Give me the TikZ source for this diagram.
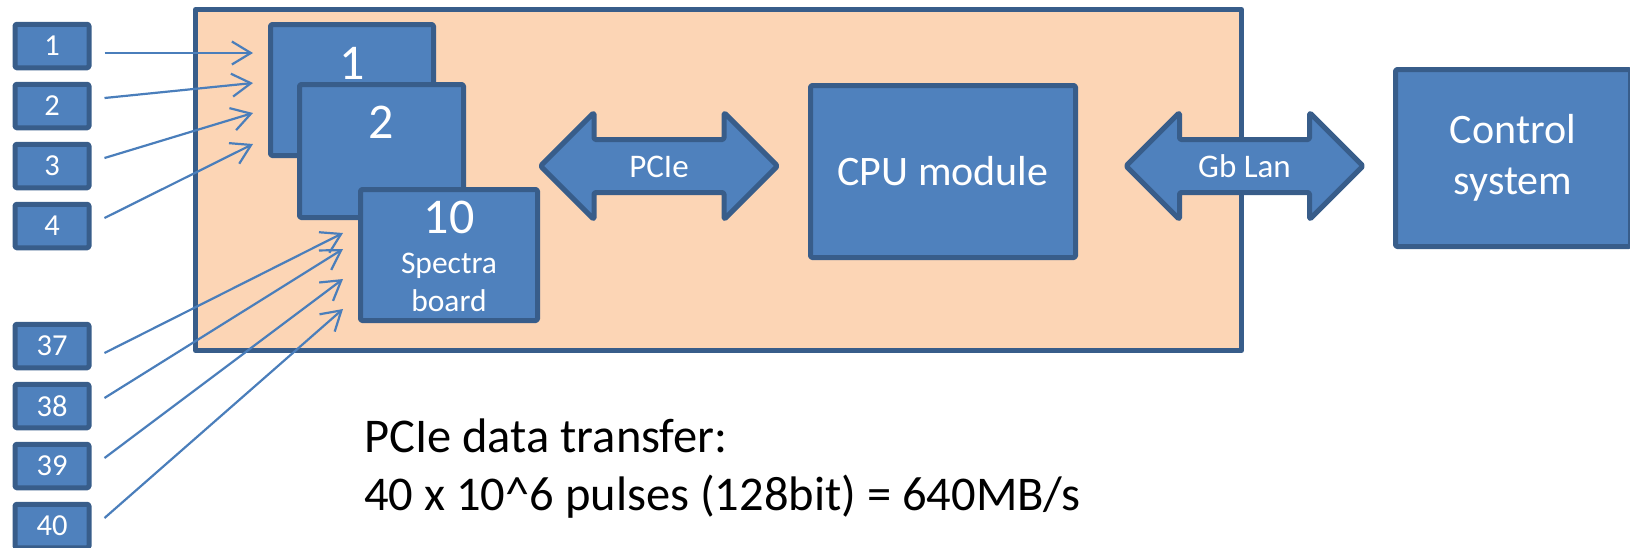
\documentclass[tikz,border=0pt]{standalone}
\usepackage{fontspec}
\setmainfont{Carlito}
\usetikzlibrary{arrows.meta,shapes.arrows,calc}
\definecolor{boxblue}{HTML}{4F81BD}
\definecolor{edgeblue}{HTML}{385D8A}
\definecolor{wireblue}{HTML}{4A7EBB}
\definecolor{peach}{HTML}{FCD5B5}
\tikzset{
  blk/.style={draw=edgeblue, fill=boxblue, line width=5pt, rounded corners=1.5pt, text=white, inner sep=0pt},
  chan/.style={blk, minimum width=74, minimum height=43.5, font=\fontsize{30.5}{36}\selectfont},
  num/.style={text=white, inner sep=0pt, font=\fontsize{50}{55}\selectfont},
  wire/.style={wireblue, line width=2.2pt, -{Straight Barb[length=19pt,width=23pt,line width=2.2pt]}},
  fat/.style={blk, double arrow, double arrow head extend=27pt, text height=23pt, text depth=0pt, inner ysep=12.5pt, minimum height=237, minimum width=102, font=\fontsize{33}{36}\selectfont},
}
\begin{document}
\begin{tikzpicture}[x=1pt, y=-1pt, line join=round]
\useasboundingbox (0,0) rectangle (1630,547);
\node[draw=edgeblue, fill=peach, line width=5pt, minimum width=1046, minimum height=341] (rack) at (718.5,180) {};
% spectra boards
\node[blk, minimum width=163, minimum height=131] (b1) at (352,90) {};
\node[num] at ($(b1.north)+(0,41)$) {1};
\node[blk, minimum width=164, minimum height=133] (b2) at (381.5,151) {};
\node[num] at ($(b2.north)+(0,40)$) {2};
\node[blk, minimum width=177, minimum height=131] (b10) at (449,255) {};
\node[num] at ($(b10.north)+(0,30)$) {10};
\node[text=white, inner sep=0pt, align=center, font=\fontsize{31.5}{38}\selectfont, anchor=north] at ($(b10.north)+(0,66)$) {Spectra\\board};
\node[blk, minimum width=265, minimum height=172, font=\fontsize{42}{51}\selectfont] (cpu) at (943,171.5) {CPU module};
\node[blk, minimum width=235, minimum height=177, align=center, font=\fontsize{42}{51}\selectfont] (ctrl) at (1513,158) {Control\\system};
\node[fat] (pcie) at (659,166) {PCIe};
\node[fat] (lan) at (1244.5,166) {Gb Lan};
% input channels
\foreach \i/\y in {1/46,2/106,3/166,4/226,37/346,38/406,39/466,40/526}
  \node[chan] (in\i) at (52,\y) {\i};
\foreach \i/\x/\y in {1/253/53,2/253/83,3/253/113,4/253/144,37/343/233,38/343/249,39/343/279,40/343/309}
  \coordinate (t\i) at (\x,\y);
\foreach \i/\dy in {1/7,2/-8,3/-8,4/-8,37/7,38/-8,39/-8,40/-8}
  \draw[wire] ($(in\i.east)+(13,\dy)$) -- (t\i);
\node[anchor=base west, inner sep=0pt, align=left, font=\fontsize{48.5}{58}\selectfont] (note) at (364,510) {PCIe data transfer:\\40 x 10\textasciicircum 6 pulses (128bit) = 640MB/s};
\end{tikzpicture}
\end{document}
